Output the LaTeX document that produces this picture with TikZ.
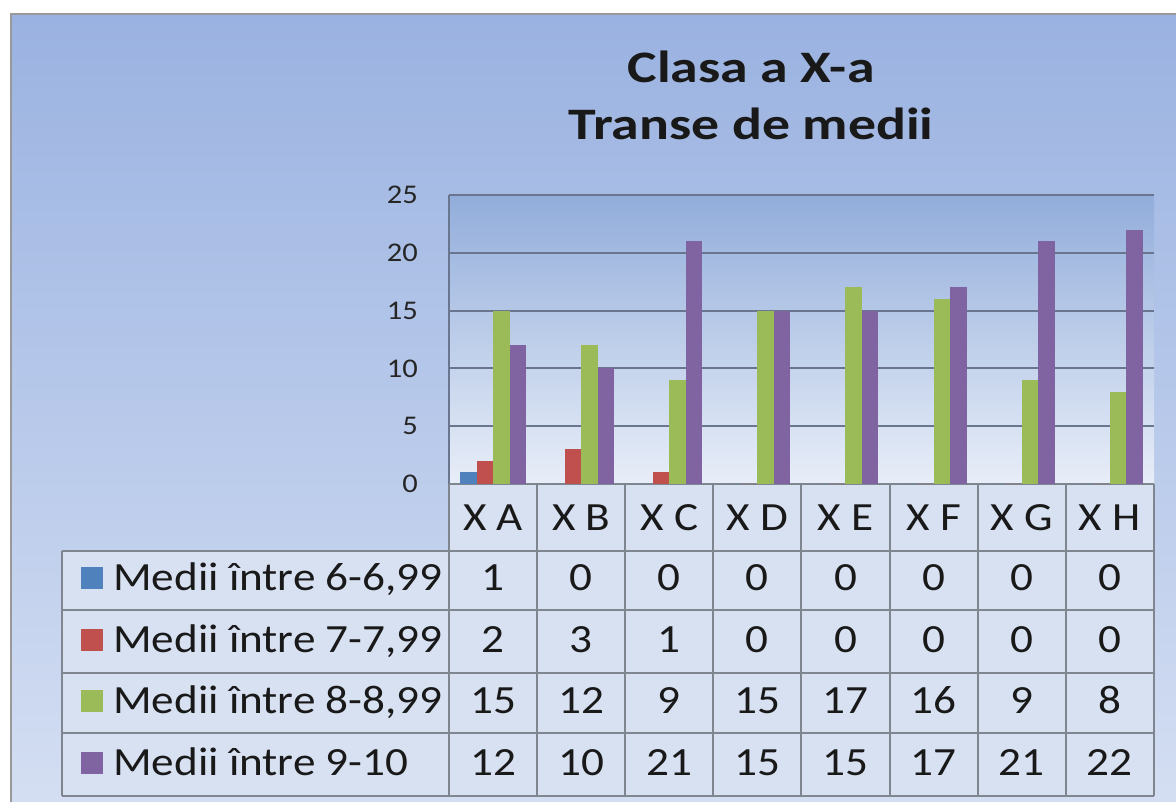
\documentclass[tikz,border=0pt]{standalone}
\usepackage{fontspec}
\setmainfont{Carlito}[FakeStretch=1.13]
\newfontfamily\titlefont{Carlito}[FakeStretch=1.24]
\usepackage{tikz}

\definecolor{serA}{HTML}{4F81BD}
\definecolor{serB}{HTML}{C0504D}
\definecolor{serC}{HTML}{9BBB59}
\definecolor{serD}{HTML}{8064A2}
\definecolor{bgtop}{HTML}{9AB2E1}
\definecolor{bgbot}{HTML}{D6E0F3}
\definecolor{plottop}{HTML}{92ADDB}
\definecolor{plotbot}{HTML}{E8EEF8}
\definecolor{cellbg}{HTML}{D7E1F2}
\definecolor{gridc}{HTML}{6A7690}
\definecolor{tabc}{HTML}{80868F}

\tikzset{
  ticklab/.style={anchor=east,inner sep=0pt,font=\fontsize{27}{30}\selectfont,text=black!85},
  titletxt/.style={anchor=base,inner sep=0pt,font=\titlefont\bfseries\fontsize{45}{50}\selectfont,text=black!90},
  celltxt/.style={anchor=base,inner sep=0pt,font=\fontsize{40}{44}\selectfont,text=black!90},
  keytxt/.style={anchor=base west,inner sep=0pt,font=\fontsize{40}{44}\selectfont,text=black!90},
  keybox/.style={minimum size=22pt,inner sep=0pt},
  gridln/.style={line width=2pt,draw=gridc},
  tabln/.style={line width=2pt,draw=tabc}
}

\begin{document}
\begin{tikzpicture}[x=1pt,y=-1pt]

\useasboundingbox (0,0) rectangle (1176,802);
\clip (0,0) rectangle (1176,802);

%%% Chart area
\shade[top color=bgtop,bottom color=bgbot] (11,14) rectangle (1200,830);
\draw[line width=2pt,draw=gray!80] (11,14) rectangle (1200,830);

%%% Title
\node[titletxt] (t1) at (751,83) {Clasa a X-a};
\node[titletxt] (t2) at (751,140) {Transe de medii};

%%% Plot area with grid
\shade[top color=plottop,bottom color=plotbot] (449,195) rectangle (1154,484);
\foreach \k in {1,...,5}
  \draw[gridln] (449,484-57.8*\k) -- (1154,484-57.8*\k);
\draw[gridln] (449,195) -- (449,484);

\foreach \k in {0,...,5}
  \node[ticklab] (y\k) at (418,484-57.8*\k) {\pgfmathparse{int(5*\k)}\pgfmathresult};

%%% Data table
\fill[cellbg] (449,484) rectangle (1154,551);
\fill[cellbg] (62,551) rectangle (1154,796);
\draw[tabln] (449,484) -- (1154,484);
\foreach \r in {551,610,673,733,796}
  \draw[tabln] (62,\r) -- (1154,\r);
\draw[tabln] (62,551) -- (62,796);
\foreach \k in {0,...,8}
  \draw[tabln] (449+88.1*\k,484) -- (449+88.1*\k,796);

%%% Legend keys
\node[keybox,fill=serA] (k1) at (92,578) {};
\node[keybox,fill=serB] (k2) at (92,640) {};
\node[keybox,fill=serC] (k3) at (92,701) {};
\node[keybox,fill=serD] (k4) at (92,763) {};
\node[keytxt] (l1) at (113,590) {Medii între 6-6,99};
\node[keytxt] (l2) at (113,652) {Medii între 7-7,99};
\node[keytxt] (l3) at (113,713) {Medii între 8-8,99};
\node[keytxt] (l4) at (113,775) {Medii între 9-10};

%%% Bars and values, one class per column
\foreach \lab/\va/\vb/\vc/\vd [count=\i] in
  {A/1/2/15/12, B/0/3/12/10, C/0/1/9/21, D/0/0/15/15,
   E/0/0/17/15, F/0/0/16/17, G/0/0/9/21, H/0/0/8/22}
{
  \pgfmathsetmacro{\xc}{493.05+88.1*(\i-1)}
  \fill[serA] (\xc-33,484) rectangle (\xc-16.5,484-11.56*\va);
  \fill[serB] (\xc-16.5,484) rectangle (\xc,484-11.56*\vb);
  \fill[serC] (\xc,484) rectangle (\xc+16.5,484-11.56*\vc);
  \fill[serD] (\xc+16.5,484) rectangle (\xc+33,484-11.56*\vd);
  \node[celltxt] (h\lab) at (\xc,530) {X \lab};
  \node[celltxt] (a\lab) at (\xc,590) {\va};
  \node[celltxt] (b\lab) at (\xc,652) {\vb};
  \node[celltxt] (c\lab) at (\xc,713) {\vc};
  \node[celltxt] (d\lab) at (\xc,775) {\vd};
}

\end{tikzpicture}
\end{document}
